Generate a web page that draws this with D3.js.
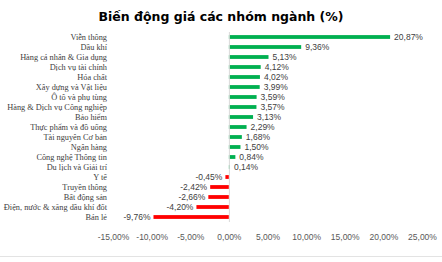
<!DOCTYPE html>
<html>
<head>
<meta charset="utf-8">
<script src="https://cdn.jsdelivr.net/npm/d3@7"></script>
<style>
  body { margin: 0; background: #fff; }
</style>
</head>
<body>
<div id="chart"></div>
<script>
// data
const categories = ["Viễn thông", "Dầu khí", "Hàng cá nhân & Gia dụng", "Dịch vụ tài chính", "Hóa chất",
  "Xây dựng và Vật liệu", "Ô tô và phụ tùng", "Hàng & Dịch vụ Công nghiệp", "Bảo hiểm", "Thực phẩm và đồ uống",
  "Tài nguyên Cơ bản", "Ngân hàng", "Công nghệ Thông tin", "Du lịch và Giải trí", "Y tế", "Truyền thông",
  "Bất động sản", "Điện, nước & xăng dầu khí đốt", "Bán lẻ"];
const values = [20.87, 9.36, 5.13, 4.12, 4.02, 3.99, 3.59, 3.57, 3.13, 2.29, 1.68, 1.50, 0.84, 0.14,
  -0.45, -2.42, -2.66, -4.20, -9.76];
const ticks = [-15, -10, -5, 0, 5, 10, 15, 20, 25];

const width = 442, height = 262;

const fmt = v => v.toFixed(2).replace(".", ",") + "%";

const svg = d3.select("#chart").append("svg")
  .attr("width", width)
  .attr("height", height);

// light gray frame line at the bottom
svg.append("line")
  .attr("x1", 0).attr("x2", width).attr("y1", 256.5).attr("y2", 256.5)
  .attr("stroke", "#e3e3e3");

svg.append("text")
  .attr("x", 221)
  .attr("y", 21)
  .attr("text-anchor", "middle")
  .style("font-family", "'DejaVu Sans', Verdana, sans-serif")
  .style("font-weight", "bold")
  .style("font-size", "12.5px")
  .attr("fill", "#000")
  .text("Biến động giá các nhóm ngành (%)");

const x = d3.scaleLinear().domain([-15, 25]).range([113, 422]);
const y = d3.scaleBand().domain(categories).range([32, 222]).paddingInner(0.62).paddingOuter(0.31);

const data = categories.map((c, i) => ({ name: c, value: values[i] }));

svg.append("g")
  .selectAll("rect")
  .data(data)
  .join("rect")
    .attr("x", d => x(Math.min(0, d.value)))
    .attr("y", d => y(d.name))
    .attr("width", d => Math.abs(x(d.value) - x(0)))
    .attr("height", y.bandwidth())
    .attr("fill", d => d.value >= 0 ? "#00b050" : "#ff0000");

// zero axis line
svg.append("line")
  .attr("x1", x(0) + 0.5).attr("x2", x(0) + 0.5)
  .attr("y1", 32).attr("y2", 222)
  .attr("stroke", "#d9d9d9");

// category labels
svg.append("g")
  .selectAll("text")
  .data(data)
  .join("text")
    .attr("x", 107)
    .attr("y", d => y(d.name) + y.bandwidth() / 2)
    .attr("dy", "0.35em")
    .attr("text-anchor", "end")
    .style("font-family", "'Liberation Serif', 'Times New Roman', serif")
    .style("font-size", "8.3px")
    .attr("fill", "#404040")
    .text(d => d.name);

// value labels
svg.append("g")
  .selectAll("text")
  .data(data)
  .join("text")
    .attr("x", d => d.value >= 0 ? x(d.value) + 4 : x(d.value) - 3)
    .attr("y", d => y(d.name) + y.bandwidth() / 2)
    .attr("dy", "0.35em")
    .attr("text-anchor", d => d.value >= 0 ? "start" : "end")
    .style("font-family", "'Liberation Sans', Arial, sans-serif")
    .style("font-size", "8.5px")
    .attr("fill", "#404040")
    .text(d => fmt(d.value));

// x axis tick labels
const axis = d3.axisBottom(x).tickValues(ticks).tickSize(0).tickFormat(d => fmt(d));
svg.append("g")
  .attr("transform", "translate(0,231)")
  .call(axis)
  .call(g => g.select(".domain").remove())
  .call(g => g.selectAll("text")
    .style("font-family", "'Liberation Sans', Arial, sans-serif")
    .style("font-size", "8.5px")
    .attr("fill", "#595959"));
</script>
</body>
</html>
